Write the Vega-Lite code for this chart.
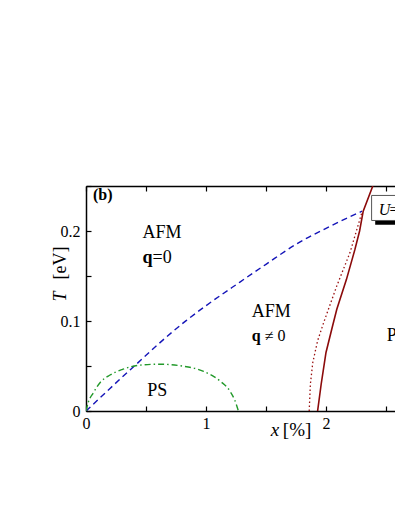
{
  "$schema": "https://vega.github.io/schema/vega-lite/v6.json",
  "width": 309,
  "height": 225,
  "autosize": "none",
  "padding": {"left": 86, "top": 186, "right": 0, "bottom": 100},
  "config": {
    "view": {"stroke": null},
    "font": "Liberation Serif",
    "axis": {
      "domainColor": "black", "domainWidth": 1.5, "tickColor": "black", "tickWidth": 1.2,
      "tickSize": -5, "labelFont": "Liberation Serif", "labelFontSize": 16, "labelColor": "black",
      "grid": false, "title": null
    }
  },
  "datasets": {
    "curves": [
      {"s": "blue", "x": 0, "T": 0}, {"s": "blue", "x": 0.1, "T": 0.0125}, {"s": "blue", "x": 0.2, "T": 0.025},
      {"s": "blue", "x": 0.28, "T": 0.035}, {"s": "blue", "x": 0.42, "T": 0.052}, {"s": "blue", "x": 0.6, "T": 0.074},
      {"s": "blue", "x": 0.84, "T": 0.101}, {"s": "blue", "x": 1.0, "T": 0.117}, {"s": "blue", "x": 1.28, "T": 0.143},
      {"s": "blue", "x": 1.5, "T": 0.163}, {"s": "blue", "x": 1.76, "T": 0.186}, {"s": "blue", "x": 2.03, "T": 0.205},
      {"s": "blue", "x": 2.3, "T": 0.222},
      {"s": "green", "x": 0, "T": 0}, {"s": "green", "x": 0.02, "T": 0.01}, {"s": "green", "x": 0.06, "T": 0.02},
      {"s": "green", "x": 0.12, "T": 0.032}, {"s": "green", "x": 0.2, "T": 0.04}, {"s": "green", "x": 0.3, "T": 0.046},
      {"s": "green", "x": 0.45, "T": 0.051}, {"s": "green", "x": 0.62, "T": 0.052}, {"s": "green", "x": 0.8, "T": 0.05},
      {"s": "green", "x": 0.98, "T": 0.044}, {"s": "green", "x": 1.12, "T": 0.033}, {"s": "green", "x": 1.2, "T": 0.022},
      {"s": "green", "x": 1.24, "T": 0.012}, {"s": "green", "x": 1.27, "T": 0},
      {"s": "dot", "x": 1.86, "T": 0}, {"s": "dot", "x": 1.87, "T": 0.03}, {"s": "dot", "x": 1.89, "T": 0.054},
      {"s": "dot", "x": 1.93, "T": 0.078}, {"s": "dot", "x": 1.98, "T": 0.098}, {"s": "dot", "x": 2.09, "T": 0.139},
      {"s": "dot", "x": 2.2, "T": 0.176}, {"s": "dot", "x": 2.3, "T": 0.221},
      {"s": "solid", "x": 1.93, "T": 0}, {"s": "solid", "x": 1.96, "T": 0.03}, {"s": "solid", "x": 2.0, "T": 0.065},
      {"s": "solid", "x": 2.05, "T": 0.092}, {"s": "solid", "x": 2.09, "T": 0.113}, {"s": "solid", "x": 2.17, "T": 0.146},
      {"s": "solid", "x": 2.24, "T": 0.179}, {"s": "solid", "x": 2.28, "T": 0.2}, {"s": "solid", "x": 2.31, "T": 0.222},
      {"s": "solid", "x": 2.39, "T": 0.25}
    ],
    "box": [{"x": 2.38, "x2": 2.8, "T": 0.2117, "T2": 0.2395}],
    "shadow": [{"x": 2.41, "x2": 2.8, "T": 0.207, "T2": 0.23}],
    "regular": [
      {"x": 0.47, "T": 0.192, "t": "AFM", "fs": 18, "a": 0},
      {"x": 0.555, "T": 0.1645, "t": "=0", "fs": 18, "a": 0},
      {"x": 1.381, "T": 0.105, "t": "AFM", "fs": 18, "a": 0},
      {"x": 1.49, "T": 0.0776, "t": "≠ 0", "fs": 16, "a": 0},
      {"x": 0.51, "T": 0.0165, "t": "PS", "fs": 18, "a": 0},
      {"x": 2.506, "T": 0.0776, "t": "PM", "fs": 18, "a": 0},
      {"x": 1.64, "T": -0.0283, "t": "[%]", "fs": 19, "a": 0},
      {"x": 2.53, "T": 0.218, "t": "=2 eV", "fs": 16, "a": 0},
      {"x": -0.17, "T": 0.146, "t": "[eV]", "fs": 18, "a": 270}
    ],
    "bold": [
      {"x": 0.47, "T": 0.1645, "t": "q", "fs": 18},
      {"x": 1.381, "T": 0.0776, "t": "q", "fs": 16},
      {"x": 0.058, "T": 0.235, "t": "(b)", "fs": 16}
    ],
    "italic": [
      {"x": 1.54, "T": -0.0283, "t": "x", "fs": 19, "a": 0},
      {"x": 2.44, "T": 0.218, "t": "U", "fs": 16, "a": 0},
      {"x": -0.17, "T": 0.1217, "t": "T", "fs": 18, "a": 270}
    ]
  },
  "layer": [
    {
      "data": {"name": "curves"},
      "transform": [{"filter": "datum.s === 'blue'"}],
      "mark": {"type": "line", "color": "#1414b8", "strokeWidth": 1.4, "strokeDash": [6, 4], "clip": true, "interpolate": "monotone"},
      "encoding": {
        "x": {"field": "x", "type": "quantitative", "scale": {"domain": [0, 2.575], "nice": false, "zero": false},
          "axis": {"orient": "bottom", "values": [0, 0.5, 1, 1.5, 2, 2.5], "labelExpr": "datum.value % 1 === 0 ? format(datum.value, 'd') : ''", "labelPadding": 9, "labelFlush": false}},
        "y": {"field": "T", "type": "quantitative", "scale": {"domain": [0, 0.25], "nice": false},
          "axis": {"values": [0, 0.05, 0.1, 0.15, 0.2, 0.25], "labelExpr": "datum.value === 0 ? '0' : (round(datum.value*20) % 2 === 0 && datum.value < 0.24 ? format(datum.value, '.1f') : '')", "labelPadding": 11, "labelFlush": false}},
        "order": {"field": "x", "type": "quantitative"}
      }
    },
    {
      "data": {"name": "curves"},
      "transform": [{"filter": "datum.s === 'green'"}],
      "mark": {"type": "line", "color": "#22992a", "strokeWidth": 1.4, "strokeDash": [6, 3, 1.5, 3], "clip": true, "interpolate": "monotone"},
      "encoding": {
        "x": {"field": "x", "type": "quantitative", "axis": {"orient": "top", "values": [0, 0.5, 1, 1.5, 2, 2.5], "labels": false}},
        "y": {"field": "T", "type": "quantitative"},
        "order": {"field": "x", "type": "quantitative"}
      }
    },
    {
      "data": {"name": "curves"},
      "transform": [{"filter": "datum.s === 'dot'"}],
      "mark": {"type": "line", "color": "#9a1010", "strokeWidth": 1.3, "strokeDash": [1.5, 2.5], "clip": true},
      "encoding": {
        "x": {"field": "x", "type": "quantitative", "axis": null},
        "y": {"field": "T", "type": "quantitative"},
        "order": {"field": "T", "type": "quantitative"}
      }
    },
    {
      "data": {"name": "curves"},
      "transform": [{"filter": "datum.s === 'solid'"}],
      "mark": {"type": "line", "color": "#8b0a0a", "strokeWidth": 1.6, "clip": true},
      "encoding": {
        "x": {"field": "x", "type": "quantitative", "axis": null},
        "y": {"field": "T", "type": "quantitative"},
        "order": {"field": "T", "type": "quantitative"}
      }
    },
    {
      "data": {"name": "shadow"},
      "mark": {"type": "rect", "color": "black"},
      "encoding": {
        "x": {"field": "x", "type": "quantitative", "axis": null}, "x2": {"field": "x2"},
        "y": {"field": "T", "type": "quantitative"}, "y2": {"field": "T2"}
      }
    },
    {
      "data": {"name": "box"},
      "mark": {"type": "rect", "fill": "white", "stroke": "#555555", "strokeWidth": 1},
      "encoding": {
        "x": {"field": "x", "type": "quantitative", "axis": null}, "x2": {"field": "x2"},
        "y": {"field": "T", "type": "quantitative"}, "y2": {"field": "T2"}
      }
    },
    {
      "data": {"name": "regular"},
      "mark": {"type": "text", "align": "left", "baseline": "alphabetic", "font": "Liberation Serif", "color": "black"},
      "encoding": {
        "x": {"field": "x", "type": "quantitative", "axis": null},
        "y": {"field": "T", "type": "quantitative"},
        "text": {"field": "t"},
        "size": {"field": "fs", "type": "quantitative", "scale": null},
        "angle": {"field": "a", "type": "quantitative", "scale": null}
      }
    },
    {
      "data": {"name": "bold"},
      "mark": {"type": "text", "align": "left", "baseline": "alphabetic", "font": "Liberation Serif", "fontWeight": "bold", "color": "black"},
      "encoding": {
        "x": {"field": "x", "type": "quantitative", "axis": null},
        "y": {"field": "T", "type": "quantitative"},
        "text": {"field": "t"},
        "size": {"field": "fs", "type": "quantitative", "scale": null}
      }
    },
    {
      "data": {"name": "italic"},
      "mark": {"type": "text", "align": "left", "baseline": "alphabetic", "font": "Liberation Serif", "fontStyle": "italic", "color": "black"},
      "encoding": {
        "x": {"field": "x", "type": "quantitative", "axis": null},
        "y": {"field": "T", "type": "quantitative"},
        "text": {"field": "t"},
        "size": {"field": "fs", "type": "quantitative", "scale": null},
        "angle": {"field": "a", "type": "quantitative", "scale": null}
      }
    }
  ],
  "resolve": {"axis": {"x": "independent"}}
}
